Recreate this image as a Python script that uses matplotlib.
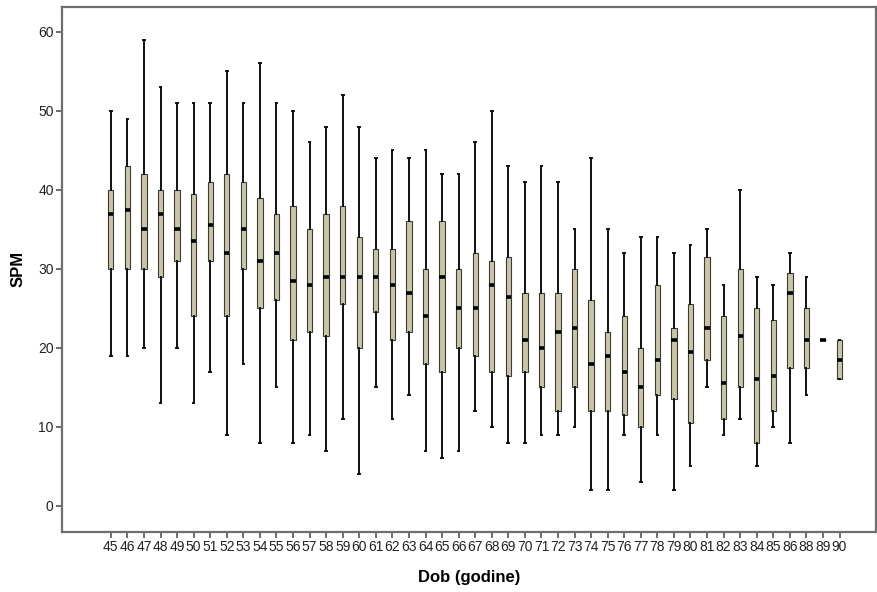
import matplotlib
matplotlib.use("Agg")
import matplotlib.pyplot as plt

plt.rcParams['font.family'] = ['Liberation Sans', 'DejaVu Sans']

categories = [str(v) for v in range(45, 87)] + ["88", "89", "90"]

whisker_low = [19, 19, 20, 13, 20, 13, 17, 9, 18, 8, 15, 8, 9, 7, 11, 4, 15, 11, 14, 7,
               6, 7, 12, 10, 8, 8, 9, 9, 10, 2, 2, 9, 3, 9, 2, 5, 15, 9, 11, 5,
               10, 8, 14, 21, 16]
q1 = [30, 30, 30, 29, 31, 24, 31, 24, 30, 25, 26, 21, 22, 21.5, 25.5, 20, 24.5, 21, 22, 18,
      17, 20, 19, 17, 16.5, 17, 15, 12, 15, 12, 12, 11.5, 10, 14, 13.5, 10.5, 18.5, 11, 15, 8,
      12, 17.5, 17.5, 21, 16]
median = [37, 37.5, 35, 37, 35, 33.5, 35.5, 32, 35, 31, 32, 28.5, 28, 29, 29, 29, 29, 28, 27, 24,
          29, 25, 25, 28, 26.5, 21, 20, 22, 22.5, 18, 19, 17, 15, 18.5, 21, 19.5, 22.5, 15.5, 21.5, 16,
          16.5, 27, 21, 21, 18.5]
q3 = [40, 43, 42, 40, 40, 39.5, 41, 42, 41, 39, 37, 38, 35, 37, 38, 34, 32.5, 32.5, 36, 30,
      36, 30, 32, 31, 31.5, 27, 27, 27, 30, 26, 22, 24, 20, 28, 22.5, 25.5, 31.5, 24, 30, 25,
      23.5, 29.5, 25, 21, 21]
whisker_high = [50, 49, 59, 53, 51, 51, 51, 55, 51, 56, 51, 50, 46, 48, 52, 48, 44, 45, 44, 45,
                42, 42, 46, 50, 43, 41, 43, 41, 35, 44, 35, 32, 34, 34, 32, 33, 35, 28, 40, 29,
                28, 32, 29, 21, 21]

stats = []
for i, lab in enumerate(categories):
    stats.append(dict(label=lab, whislo=whisker_low[i], q1=q1[i], med=median[i],
                      q3=q3[i], whishi=whisker_high[i], fliers=[]))

fig = plt.figure(figsize=(8.78, 5.92), dpi=100)
ax = fig.add_axes([0.0706, 0.1014, 0.9271, 0.8876])

positions = list(range(len(categories)))
ax.bxp(stats, positions=positions, widths=0.32, capwidths=0.1, patch_artist=True,
       showfliers=False,
       boxprops=dict(facecolor='#c9c6a3', edgecolor='#3a3a3a', linewidth=0.8),
       whiskerprops=dict(color='#111111', linewidth=1.4),
       capprops=dict(color='#111111', linewidth=1.4),
       medianprops=dict(color='black', linewidth=2.6, solid_capstyle='butt'))

ax.set_xlim(-2.95, 46.2)
ax.set_ylim(-3.3, 63.2)
ax.set_yticks([0, 10, 20, 30, 40, 50, 60])
ax.set_xticks(positions)
ax.set_xticklabels(categories)

for sp in ax.spines.values():
    sp.set_color('#6e6e6e')
    sp.set_linewidth(1.6)

ax.tick_params(axis='both', direction='out', length=4, width=1.2, color='#555555',
               labelsize=10, labelcolor='#222222', pad=2)
ax.tick_params(axis='x', pad=1.5)

ax.set_xlabel('Dob (godine)', fontsize=12, fontweight='bold', labelpad=12)
ax.set_ylabel('SPM', fontsize=12, fontweight='bold', labelpad=9)

fig.savefig('out.png', dpi=100)
